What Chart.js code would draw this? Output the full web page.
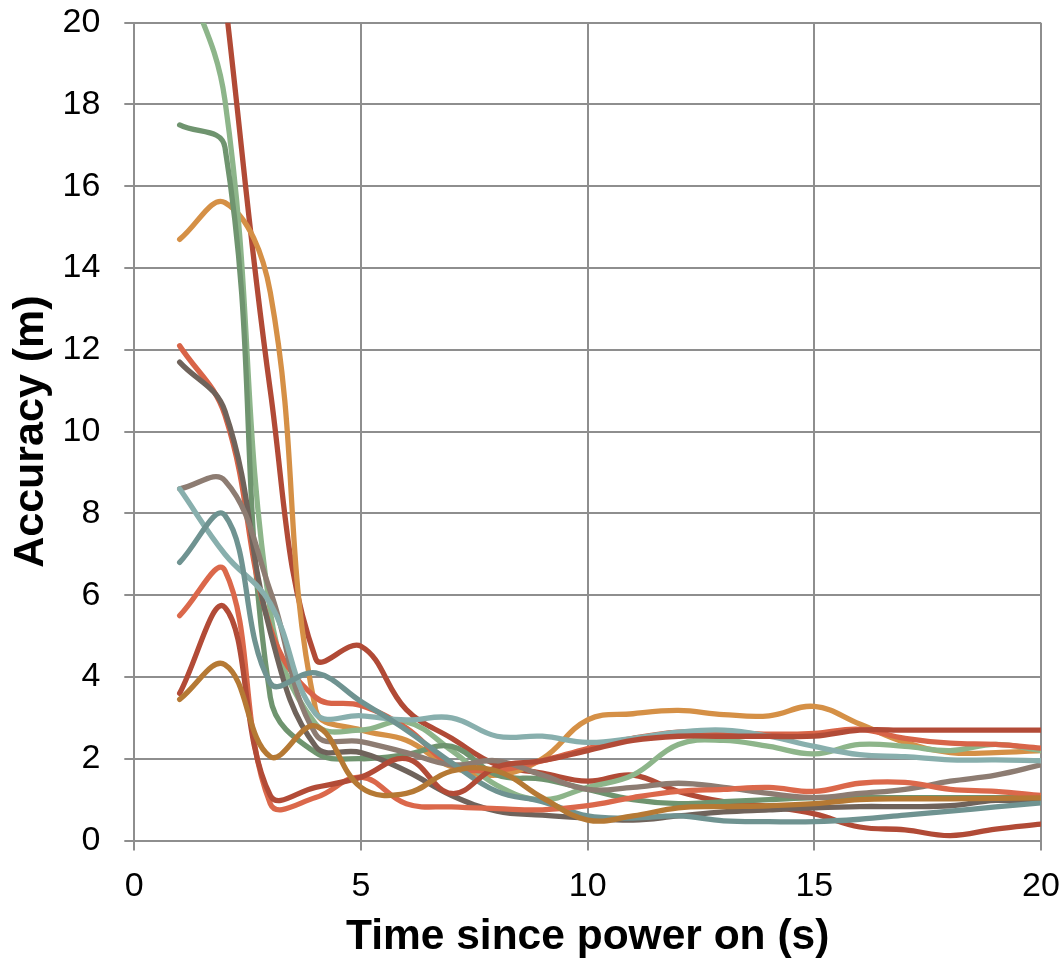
<!DOCTYPE html>
<html>
<head>
<meta charset="utf-8">
<script src="https://cdn.jsdelivr.net/npm/chart.js@4"></script>
<style>
  html, body { margin: 0; padding: 0; background: #fff; }
  canvas { display: block; }
</style>
</head>
<body>
<canvas id="grafico" width="1062" height="962"></canvas>
<script>
// seconds since power on
const timeSeconds = [1, 2, 3, 4, 5, 6, 7, 8, 9, 10, 11, 12, 13, 14, 15, 16, 17, 18, 19, 20];

// accuracy (m) per receiver run
const runDarkRed    = [30, 20.6, 11, 4.45, 4.75, 3.2, 2.5, 1.85, 1.65, 1.45, 1.6, 1.2, 0.95, 0.83, 0.65, 0.33, 0.26, 0.12, 0.28, 0.4];
const runLightGreen = [21.5, 18.1, 5.6, 2.85, 2.7, 2.9, 2.2, 1.35, 1.0, 1.3, 1.6, 2.35, 2.45, 2.3, 2.12, 2.35, 2.3, 2.2, 2.35, 2.2];
const runDarkGreen  = [17.5, 16.95, 3.5, 2.15, 2.0, 2.1, 2.3, 1.6, 1.5, 1.25, 1.0, 0.9, 0.95, 1.0, 1.05, 1.05, 1.05, 1.05, 1.05, 1.05];
const runOrange     = [14.7, 15.6, 13.4, 3.2, 2.7, 2.45, 1.8, 1.6, 2.0, 2.95, 3.1, 3.18, 3.08, 3.05, 3.28, 2.85, 2.4, 2.15, 2.15, 2.2];
const runRedOrange  = [12.1, 10.4, 5.2, 3.5, 3.3, 2.75, 1.85, 1.72, 1.95, 2.25, 2.5, 2.65, 2.65, 2.6, 2.62, 2.72, 2.5, 2.38, 2.35, 2.26];
const runBrown      = [11.7, 10.5, 5.1, 2.3, 2.15, 1.7, 1.1, 0.72, 0.62, 0.55, 0.5, 0.6, 0.7, 0.75, 0.8, 0.83, 0.83, 0.85, 0.98, 0.95];
const runTaupe      = [8.6, 8.8, 6.1, 2.6, 2.42, 2.15, 1.85, 1.95, 1.6, 1.25, 1.3, 1.4, 1.3, 1.15, 1.05, 1.15, 1.25, 1.45, 1.6, 1.85];
const runLightTeal  = [8.6, 7.0, 5.8, 3.1, 3.05, 2.95, 3.0, 2.55, 2.55, 2.4, 2.5, 2.65, 2.7, 2.55, 2.3, 2.1, 2.05, 1.97, 1.97, 1.95];
const runTealGray   = [6.8, 7.95, 3.85, 4.1, 3.4, 2.7, 1.9, 1.2, 0.95, 0.6, 0.55, 0.6, 0.48, 0.46, 0.46, 0.52, 0.62, 0.72, 0.82, 0.92];
const runCoral      = [5.5, 6.6, 0.9, 1.05, 1.55, 0.9, 0.82, 0.78, 0.75, 0.85, 1.05, 1.2, 1.25, 1.3, 1.2, 1.4, 1.42, 1.25, 1.2, 1.1];
const runRust       = [3.6, 5.7, 1.1, 1.3, 1.55, 2.0, 1.15, 1.8, 1.95, 2.2, 2.45, 2.55, 2.55, 2.55, 2.55, 2.7, 2.7, 2.7, 2.7, 2.7];
const runOchre      = [3.45, 4.3, 2.05, 2.8, 1.3, 1.15, 1.7, 1.7, 1.05, 0.5, 0.6, 0.8, 0.83, 0.85, 0.9, 1.0, 1.02, 1.02, 1.03, 1.04];

const xTicks = [0, 5, 10, 15, 20];
const yTicks = [0, 2, 4, 6, 8, 10, 12, 14, 16, 18, 20];

const runs = [
    { nombre: 'Run 1', valores: runOchre, color: '#b57934' },
    { nombre: 'Run 2', valores: runRust, color: '#b24b37' },
    { nombre: 'Run 3', valores: runCoral, color: '#db684b' },
    { nombre: 'Run 4', valores: runTealGray, color: '#6f9391' },
    { nombre: 'Run 5', valores: runLightTeal, color: '#88afad' },
    { nombre: 'Run 6', valores: runTaupe, color: '#8d7c72' },
    { nombre: 'Run 7', valores: runBrown, color: '#6f635b' },
    { nombre: 'Run 8', valores: runRedOrange, color: '#d86448' },
    { nombre: 'Run 9', valores: runDarkGreen, color: '#6f946f' },
    { nombre: 'Run 10', valores: runLightGreen, color: '#8db58a' },
    { nombre: 'Run 11', valores: runOrange, color: '#d59046' },
    { nombre: 'Run 12', valores: runDarkRed, color: '#b14a36' }
];

const gris = '#8e8e8e';
const fuente = "'Liberation Sans', Arial, sans-serif";

const ctx = document.getElementById('grafico').getContext('2d');

new Chart(ctx, {
    type: 'line',
    data: {
        datasets: runs.map(r => ({
            label: r.nombre,
            data: timeSeconds.map((t, i) => ({ x: t, y: r.valores[i] })),
            borderColor: r.color,
            borderWidth: 5.3,
            pointRadius: 0,
            fill: false,
            tension: 0.4,
            borderCapStyle: 'round',
            borderJoinStyle: 'round',
            clip: 0
        }))
    },
    options: {
        responsive: false,
        animation: false,
        devicePixelRatio: 1,
        layout: { padding: { top: 22.7, right: 21, left: 0, bottom: 0 } },
        plugins: {
            legend: { display: false },
            tooltip: { enabled: false }
        },
        scales: {
            x: {
                type: 'linear',
                min: 0,
                max: 20,
                afterBuildTicks: scale => { scale.ticks = xTicks.map(v => ({ value: v })); },
                afterFit: scale => {
                    scale.height = 121.5;
                    scale.paddingLeft = 0;
                    scale.paddingRight = 0;
                },
                grid: { color: gris, lineWidth: 2, tickLength: 10, tickColor: gris },
                border: { color: gris, width: 2 },
                ticks: { color: '#000', font: { family: fuente, size: 34 }, padding: 16, maxRotation: 0 },
                title: {
                    display: true,
                    text: 'Time since power on (s)',
                    color: '#000',
                    font: { family: fuente, size: 42.5, weight: 'bold', lineHeight: 1 },
                    padding: { top: 0, bottom: 3 }
                }
            },
            y: {
                type: 'linear',
                min: 0,
                max: 20,
                afterBuildTicks: scale => { scale.ticks = yTicks.map(v => ({ value: v })); },
                afterFit: scale => {
                    scale.width = 134.3;
                    scale.paddingTop = 0;
                    scale.paddingBottom = 0;
                },
                grid: { color: gris, lineWidth: 2, tickLength: 10, tickColor: gris },
                border: { color: gris, width: 2 },
                ticks: { color: '#000', font: { family: fuente, size: 34 }, padding: 24 },
                title: {
                    display: true,
                    text: 'Accuracy (m)',
                    color: '#000',
                    font: { family: fuente, size: 43, weight: 'bold', lineHeight: 1 },
                    padding: { top: 10, bottom: 0 }
                }
            }
        }
    }
});
</script>
</body>
</html>
